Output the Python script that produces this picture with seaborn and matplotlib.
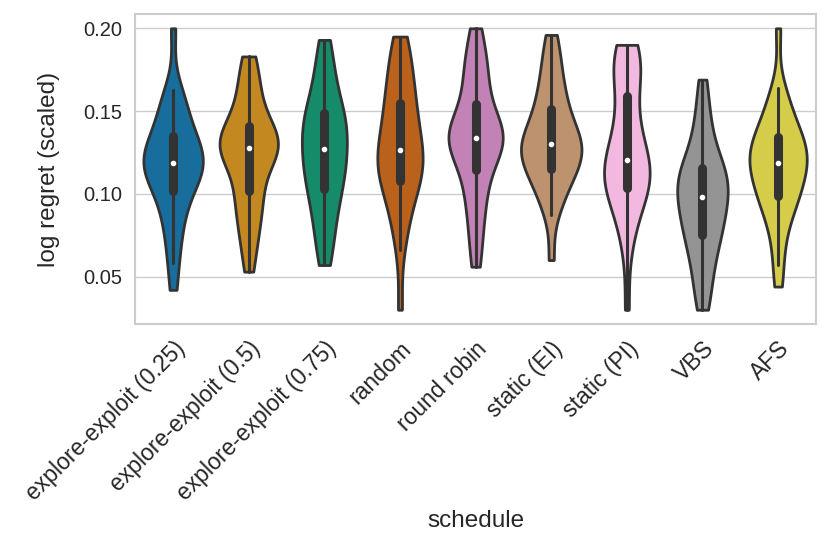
import matplotlib
matplotlib.use("Agg")
import matplotlib.pyplot as plt
import pandas as pd
import seaborn as sns

schedules = ["explore-exploit (0.25)", "explore-exploit (0.5)", "explore-exploit (0.75)",
             "random", "round robin", "static (EI)", "static (PI)", "VBS", "AFS"]

ee_025 = [0.042, 0.058, 0.068, 0.077, 0.084, 0.090, 0.095, 0.0995, 0.1045, 0.107, 0.1095,
          0.1118, 0.1138, 0.1155, 0.1172, 0.1187, 0.1203, 0.122, 0.124, 0.1263, 0.1288,
          0.1315, 0.134, 0.136, 0.140, 0.145, 0.150, 0.155, 0.159, 0.163, 0.200]
ee_05 = [0.053, 0.065, 0.073, 0.080, 0.086, 0.091, 0.096, 0.1005, 0.1035, 0.1095, 0.1165,
         0.1205, 0.1233, 0.1252, 0.1265, 0.1276, 0.1288, 0.130, 0.1315, 0.133, 0.1348,
         0.1368, 0.139, 0.1435, 0.147, 0.152, 0.158, 0.164, 0.170, 0.177, 0.183]
ee_075 = [0.057, 0.065, 0.073, 0.080, 0.086, 0.0915, 0.0965, 0.1008, 0.1052, 0.1083, 0.1114,
          0.1145, 0.1176, 0.1207, 0.1238, 0.127, 0.130, 0.133, 0.136, 0.139, 0.142,
          0.145, 0.1475, 0.1497, 0.153, 0.158, 0.164, 0.170, 0.177, 0.185, 0.193]
rand = [0.030, 0.066, 0.078, 0.086, 0.092, 0.098, 0.1025, 0.1065, 0.1095, 0.112, 0.1144,
        0.1168, 0.1192, 0.1216, 0.1241, 0.1266, 0.130, 0.1335, 0.137, 0.1407, 0.1445,
        0.1485, 0.153, 0.157, 0.161, 0.166, 0.171, 0.177, 0.183, 0.189, 0.195]
round_robin = [0.056, 0.067, 0.078, 0.087, 0.094, 0.100, 0.106, 0.112, 0.117, 0.1215, 0.1255,
               0.128, 0.130, 0.1318, 0.133, 0.134, 0.1352, 0.1365, 0.138, 0.140, 0.1425,
               0.1455, 0.150, 0.158, 0.163, 0.168, 0.173, 0.178, 0.184, 0.191, 0.200]
static_ei = [0.060, 0.087, 0.094, 0.100, 0.1045, 0.108, 0.111, 0.1137, 0.1163, 0.119, 0.121,
             0.123, 0.1248, 0.1265, 0.1283, 0.130, 0.1318, 0.1338, 0.136, 0.1385, 0.1415,
             0.145, 0.149, 0.153, 0.157, 0.162, 0.167, 0.173, 0.180, 0.188, 0.196]
static_pi = [0.030, 0.064, 0.077, 0.085, 0.091, 0.0955, 0.0995, 0.102, 0.1048, 0.107, 0.1093,
             0.1115, 0.1138, 0.116, 0.1183, 0.1207, 0.1235, 0.1268, 0.131, 0.136, 0.142,
             0.148, 0.155, 0.163, 0.169, 0.1745, 0.1785, 0.182, 0.185, 0.1875, 0.190]
vbs = [0.030, 0.038, 0.046, 0.053, 0.0595, 0.065, 0.0695, 0.0733, 0.0767, 0.080, 0.083,
       0.0862, 0.0893, 0.0923, 0.0952, 0.098, 0.1005, 0.103, 0.1053, 0.1076, 0.110,
       0.1123, 0.1143, 0.1167, 0.120, 0.125, 0.131, 0.138, 0.146, 0.156, 0.169]
afs = [0.044, 0.057, 0.070, 0.079, 0.086, 0.091, 0.0945, 0.0975, 0.100, 0.103, 0.106,
       0.109, 0.112, 0.1145, 0.1165, 0.1185, 0.1205, 0.1225, 0.1245, 0.1265, 0.1288,
       0.1312, 0.1335, 0.1353, 0.1385, 0.1425, 0.147, 0.152, 0.158, 0.164, 0.200]

values = [ee_025, ee_05, ee_075, rand, round_robin, static_ei, static_pi, vbs, afs]
rows = []
for name, vals in zip(schedules, values):
    for v in vals:
        rows.append((name, v))
df = pd.DataFrame(rows, columns=["schedule", "log regret (scaled)"])

sns.set_theme(style="whitegrid")
plt.rcParams["font.family"] = ["Liberation Sans", "DejaVu Sans"]

fig = plt.figure(figsize=(8.3, 5.47), dpi=100)
ax = fig.add_axes([0.163, 0.408, 0.820, 0.566])
sns.violinplot(data=df, x="schedule", y="log regret (scaled)", hue="schedule",
               order=schedules, palette="colorblind", cut=0, inner="box",
               common_norm=True, bw_adjust=0.8, linewidth=2.0, linecolor=".2",
               legend=False,
               inner_kws=dict(box_width=6.5, whis_width=2.2, marker="."), ax=ax)
ax.set_xticks(range(len(schedules)))
ax.set_xticklabels(schedules, rotation=45, ha="right", rotation_mode="anchor", fontsize=16.5)
ax.tick_params(axis="y", labelsize=14.5)
ax.set_xlabel("schedule", fontsize=17.5)
ax.set_ylabel("log regret (scaled)", fontsize=17.5)
ax.set_yticks([0.05, 0.10, 0.15, 0.20])
ax.set_yticklabels(["0.05", "0.10", "0.15", "0.20"])
ax.xaxis.set_label_coords(0.5, -0.60)
ax.yaxis.set_label_coords(-0.11, 0.5)
for s in ax.spines.values():
    s.set_linewidth(1.5)
    s.set_color(".8")
fig.savefig("out.png", dpi=100)
